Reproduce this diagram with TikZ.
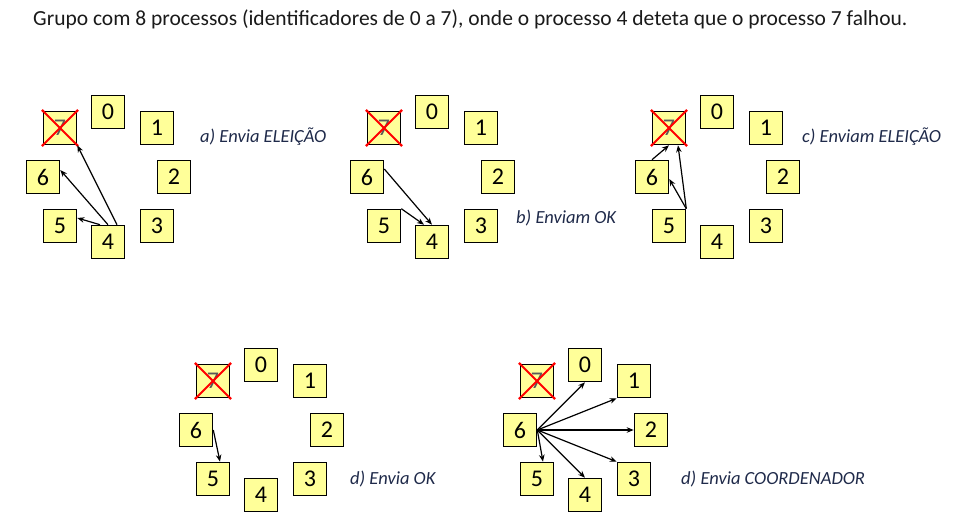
\documentclass[tikz,border=0pt]{standalone}
\usepackage{fontspec}
\setmainfont{Carlito}
\usetikzlibrary{arrows.meta}
\definecolor{boxfill}{HTML}{FFFF99}
\definecolor{lblcol}{HTML}{1F2A4A}
\definecolor{titlecol}{HTML}{1A1A1A}
\tikzset{
  pbox/.style={draw=black, fill=boxfill, line width=1.6pt, minimum size=33pt, inner sep=0pt, font=\fontsize{24}{24}\selectfont},
  deadbox/.style={pbox, text=black!65},
  xline/.style={draw=red, line width=2pt},
  arr/.style={-{Stealth[length=7pt,width=5.5pt]}, line width=1.2pt, draw=black},
  lbl/.style={anchor=west, inner sep=0pt, text=lblcol, font=\fontsize{18.5}{18.5}\selectfont\itshape},
}
\newcommand\procring[3]{%
  \begin{scope}[shift={(#2,#3)}]
    \node[pbox] (#10) at (108,112) {0};
    \node[pbox] (#11) at (157,128) {1};
    \node[pbox] (#12) at (174,177) {2};
    \node[pbox] (#13) at (157,226) {3};
    \node[pbox] (#14) at (108,242) {4};
    \node[pbox] (#15) at (60,226) {5};
    \node[pbox] (#16) at (43,177) {6};
    \node[deadbox] (#17) at (60,128) {7};
    \draw[xline] (#17.north west) -- (#17.south east);
    \draw[xline] (#17.north east) -- (#17.south west);
    \foreach \c in {north west,south east,north east,south west}
      \fill[red] (#17.\c) circle (1.6pt);
  \end{scope}}
\begin{document}
\begin{tikzpicture}[x=1pt,y=-1pt]
\useasboundingbox (0,0) rectangle (959,531);
\node[anchor=west, inner sep=0pt, text=titlecol, font=\fontsize{21.5}{21.5}\selectfont] (title) at (33,19) {Grupo com 8 processos (identificadores de 0 a 7), onde o processo 4 deteta que o processo 7 falhou.};

\procring{a}{0}{0}
\procring{b}{324}{0}
\procring{c}{609}{0}
\procring{d}{153}{253}
\procring{e}{477}{253}

\node[lbl] (la) at (200,137) {a) Envia ELEIÇÃO};
\node[lbl] (lb) at (516,218) {b) Enviam OK};
\node[lbl] (lc) at (802,137) {c) Enviam ELEIÇÃO};
\node[lbl] (ld) at (350,479) {d) Envia OK};
\node[lbl] (le) at (681,479) {d) Envia COORDENADOR};

% a) 4 sends ELECTION to 5, 6, 7
\draw[arr] ([xshift=9pt]a4.north) -- (a7.south east);
\draw[arr] (a4.north) -- ([yshift=7pt]a6.east);
\draw[arr] ([xshift=-8pt]a4.north) -- ([yshift=8pt]a5.east);

% b) 5 and 6 send OK to 4
\draw[arr] ([yshift=8pt]b6.east) -- (b4.north);
\draw[arr] (b5.north east) -- ([xshift=-8pt]b4.north);

% c) 5 and 6 send ELECTION
\draw[arr] (c6.north) -- (c7.south);
\draw[arr] (c5.north east) -- ([xshift=9pt]c7.south);
\draw[arr] (c5.north east) -- ([yshift=-2pt]c6.east);

% d) 6 sends OK to 5
\draw[arr] (d6.east) -- ([xshift=7pt]d5.north);

% e) 6 sends COORDINATOR
\draw[arr] (e6.east) -- (e0.south);
\draw[arr] (e6.east) -- (e1.south west);
\draw[arr] (e6.east) -- (e2.west);
\draw[arr] (e6.east) -- (e3.north west);
\draw[arr] (e6.east) -- (e4.north);
\draw[arr] (e6.east) -- ([xshift=6pt]e5.north);
\end{tikzpicture}
\end{document}
